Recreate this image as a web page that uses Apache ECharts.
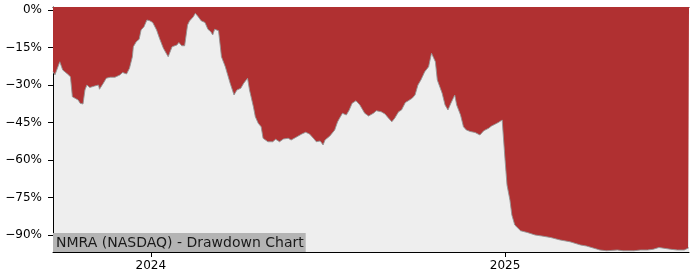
<!DOCTYPE html>
<html>
<head>
<meta charset="utf-8">
<script src="https://cdn.jsdelivr.net/npm/echarts@6/dist/echarts.min.js"></script>
<style>
html,body{margin:0;padding:0;background:#fff;}
#chart{width:700px;height:280px;}
</style>
</head>
<body>
<div id="chart"></div>
<script>
// Day offsets relative to 2024-01-01
var baseDate = [2024, 0, 1];
var dayOffsets = [-101,-99,-98,-94,-91,-86,-83,-81,-79,-75,-73,-70,-68,-66,-63,-61,-58,-54,-53,-49,-46,-42,-37,-32,-29,-25,-22,-19,-18,-15,-12,-10,-7,-4,-1,2,6,9,13,18,22,27,29,32,35,38,40,44,46,49,52,56,59,62,64,66,70,73,77,82,86,89,93,96,100,102,106,108,111,114,116,121,126,129,133,137,142,145,151,156,160,164,168,171,175,178,180,185,190,193,195,198,202,205,208,212,216,221,225,230,233,238,242,245,249,252,256,259,263,266,270,273,276,279,283,287,290,294,296,301,304,307,310,314,316,320,323,326,330,335,340,344,349,352,356,359,363,364,366,368,371,373,376,382,389,397,404,413,423,433,444,450,457,464,471,482,488,499,506,513,519,525,530,537,544,551,555,556];
var drawdownPct = [-24.7,-26,-26.7,-20.7,-24,-25.6,-26.7,-34.7,-35.3,-36,-37.3,-37.6,-32,-30,-31,-31.7,-30.4,-30,-31.7,-29.3,-27.3,-26.9,-26.9,-26,-25,-25.6,-23.3,-18.7,-14.7,-12.7,-11.7,-8,-6.7,-4,-4.3,-5,-8,-11.3,-15.3,-18.7,-14.7,-14,-13,-14.3,-14.3,-6,-4.4,-2.7,-1.3,-2.7,-4.3,-5,-7.7,-8.7,-10,-7.7,-8.3,-18.7,-22.7,-29.3,-34,-32,-31.3,-29.3,-27.3,-32,-38.7,-42.7,-45.3,-46.7,-51.3,-52.7,-52.7,-51.7,-52.7,-51.6,-51.3,-52,-50.7,-49.6,-48.9,-49.6,-51.3,-52.7,-52.4,-54,-52,-50.4,-48,-44.7,-43.3,-41.3,-42,-40,-37.3,-36.3,-38,-41.3,-42.4,-41.3,-40.3,-40.7,-41.6,-43,-44.7,-43.3,-40.7,-40,-37,-36.3,-35.3,-34,-30,-28,-24.7,-22.7,-17.3,-20.7,-28,-33.3,-38,-40,-37.3,-34,-38,-42,-46.7,-48,-48.6,-49,-50,-48.3,-47.3,-46.4,-45.6,-45,-44,-44.7,-60,-70,-76,-82,-86,-88.3,-89,-90,-90.4,-91,-92,-92.7,-94,-94.4,-95.2,-96,-96.3,-96,-96.3,-96.3,-96,-96,-95.7,-95,-95.3,-95.7,-96,-96,-95.3,-95];
var yTicks = [0,-15,-30,-45,-60,-75,-90];
var xTickYears = [2024, 2025];
var yMin = -96.8, yMax = 1.2;
var titleText = 'NMRA (NASDAQ) - Drawdown Chart';

var DAY = 86400000;
var base = new Date(baseDate[0], baseDate[1], baseDate[2]).getTime();
var seriesData = dayOffsets.map(function(d, i){ return [base + d*DAY, drawdownPct[i]]; });
var xMin = seriesData[0][0], xMax = seriesData[seriesData.length-1][0];
var xTickVals = xTickYears.map(function(y){ return new Date(y,0,1).getTime(); });

var chart = echarts.init(document.getElementById('chart'), null, {renderer:'canvas'});
var font = 'DejaVu Sans';
chart.setOption({
  animation: false,
  backgroundColor: '#ffffff',
  grid: {left: 53, top: 7, right: 11, bottom: 28, show: true, backgroundColor: '#eeeeee', borderWidth: 0},
  xAxis: [{
    type: 'value', min: xMin, max: xMax, scale: true,
    axisLine: {show: true, onZero: false, lineStyle: {color: '#000', width: 1}},
    axisTick: {show: true, length: 5, inside: false, lineStyle: {color: '#000'}, customValues: xTickVals},
    axisLabel: {color: '#000', fontFamily: font, fontSize: 12, margin: 8, customValues: xTickVals,
      formatter: function(v){ return String(new Date(v).getFullYear()); }},
    splitLine: {show: false}
  },{
    type: 'value', min: xMin, max: xMax, scale: true, position: 'top',
    axisLine: {show: true, onZero: false, lineStyle: {color: '#000', width: 1}},
    axisTick: {show: false}, axisLabel: {show: false}, splitLine: {show: false}
  }],
  yAxis: {
    type: 'value', min: yMin, max: yMax,
    axisLine: {show: true, onZero: false, lineStyle: {color: '#000', width: 1}},
    axisTick: {show: true, length: 5, lineStyle: {color: '#000'}, customValues: yTicks},
    axisLabel: {color: '#000', fontFamily: font, fontSize: 12, margin: 11, customValues: yTicks,
      formatter: function(v){ return (v < 0 ? '\u2212' + (-v) : String(v)) + '%'; }},
    splitLine: {show: false}
  },
  series: [{
    type: 'line', data: seriesData, showSymbol: false, symbol: 'none',
    lineStyle: {color: '#959595', width: 0.9},
    areaStyle: {color: '#b03031', opacity: 1, origin: 'end'},
    z: 2
  }],
  graphic: [{
    type: 'text', left: 53, bottom: 28, z: 10,
    style: {text: titleText, fontFamily: font, fontSize: 14, fill: '#1a1a1a',
      backgroundColor: '#b4b4b4', padding: [3, 2, 2, 3]}
  }]
});
</script>
</body>
</html>
